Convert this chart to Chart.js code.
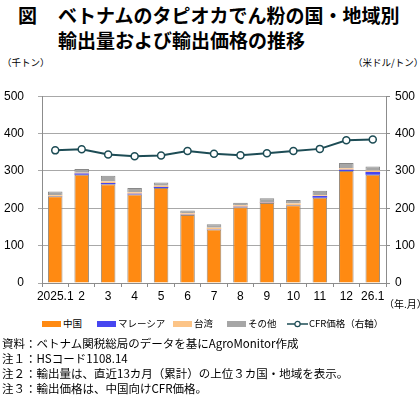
<!DOCTYPE html>
<html>
<head>
<meta charset="utf-8">
<script src="https://cdn.jsdelivr.net/npm/chart.js@4"></script>
<style>
    body { margin: 0; width: 420px; height: 396px; background: #fff; position: relative; overflow: hidden;
           font-family: "Liberation Sans", "Noto Sans CJK JP", sans-serif; color: #000; }
    .abs { position: absolute; white-space: nowrap; }
    .title { font-family: "Noto Sans CJK JP", sans-serif; font-weight: bold; font-size: 19px; line-height: 24px; }
    .unit { font-family: "Noto Sans CJK JP", sans-serif; font-size: 9.5px; }
    .note { font-family: "Noto Sans CJK JP", sans-serif; font-size: 11.5px; line-height: 15px; left: 2px; }
    #legend { top: 316px; left: 42px; font-family: "Noto Sans CJK JP", sans-serif; font-size: 9.5px; line-height: 14px; }
    #legend span.item { position: absolute; top: 0; }
    #legend i { display: inline-block; width: 19px; height: 6px; vertical-align: middle; margin-right: 2px; border: 0; }
    #chart-container { position: absolute; left: 0; top: 75px; width: 420px; height: 235px; }
</style>
</head>
<body>
<div class="abs title" style="left:18px; top:3px;">図</div>
<div class="abs title" style="left:58px; top:3px;">ベトナムのタピオカでん粉の国・地域別</div>
<div class="abs title" style="left:58px; top:28px;">輸出量および輸出価格の推移</div>
<div class="abs unit" style="left:2px; top:55px;">（千トン）</div>
<div class="abs unit" style="left:353px; top:55px;">（米ドル/トン）</div>

<div id="chart-container"><canvas id="mycanvas" width="420" height="235"></canvas></div>
<div class="abs unit" style="left:384px; top:296px; font-size:10px;">（年.月）</div>

<div id="legend" class="abs"></div>

<div class="abs note" style="top:336px;">資料：ベトナム関税総局のデータを基にAgroMonitor作成</div>
<div class="abs note" style="top:351px;">注１：HSコード1108.14</div>
<div class="abs note" style="top:366px;">注２：輸出量は、直近13カ月（累計）の上位３カ国・地域を表示。</div>
<div class="abs note" style="top:381px;">注３：輸出価格は、中国向けCFR価格。</div>

<script>
// categories
var meses = ['2025.1', '2', '3', '4', '5', '6', '7', '8', '9', '10', '11', '12', '26.1'];
// export volume (thousand tons)
var china    = [232, 290, 264, 237, 254, 182, 143, 203, 214, 208, 228, 300, 290];
var malasia  = [1, 3, 4, 2, 3, 1, 1, 1, 1, 1, 5, 3, 7];
var taiwan   = [2, 2, 4, 4, 3, 4, 4, 4, 2, 4, 2, 4, 4];
var otros    = [10, 10, 15, 11, 9, 7, 9, 7, 10, 9, 12, 14, 11];
// CFR price (USD/ton, right axis)
var cfr      = [355, 358, 344, 339, 341, 353, 346, 342, 347, 353, 359, 382, 384];
var yTicks   = [0, 100, 200, 300, 400, 500];

var gris = '#8c8c8c';
var lineColor = '#1d4c55';

var chartdata = {
    labels: meses,
    datasets: [{
        type: 'line',
        label: 'CFR価格（右軸）',
        data: cfr,
        yAxisID: 'y1',
        borderColor: lineColor,
        borderWidth: 2,
        pointRadius: 3.5,
        pointBackgroundColor: '#ffffff',
        pointBorderColor: lineColor,
        pointBorderWidth: 1.5,
        order: 0
    }, {
        label: '中国',
        data: china,
        backgroundColor: '#ff8a12',
        borderColor: '#9a8a7a',
        borderWidth: 1,
        order: 1
    }, {
        label: 'マレーシア',
        data: malasia,
        backgroundColor: '#4646f0',
        borderColor: gris,
        borderWidth: 0,
        order: 1
    }, {
        label: '台湾',
        data: taiwan,
        backgroundColor: '#fcc487',
        borderColor: gris,
        borderWidth: 0,
        order: 1
    }, {
        label: 'その他',
        data: otros,
        backgroundColor: '#a6a6a6',
        borderColor: '#888888',
        borderWidth: 1,
        order: 1
    }]
};

var ctx = document.getElementById('mycanvas');
var tickFont = { family: 'Liberation Sans', size: 12 };

var barGraph = new Chart(ctx, {
    type: 'bar',
    data: chartdata,
    options: {
        responsive: false,
        animation: false,
        layout: { padding: { top: 10, left: 0, right: 0, bottom: 0 } },
        datasets: { bar: { barPercentage: 0.55, categoryPercentage: 1 } },
        plugins: { legend: { display: false }, tooltip: { enabled: false } },
        scales: {
            x: {
                stacked: true,
                grid: { display: true, drawOnChartArea: false, offset: true, tickLength: 4, color: gris },
                border: { color: gris },
                ticks: { color: '#000', font: tickFont, padding: 2, maxRotation: 0, autoSkip: false },
                afterFit: function (axis) { axis.height = 27; }
            },
            y: {
                stacked: true,
                position: 'left',
                min: 0,
                max: 500,
                afterBuildTicks: function (axis) { axis.ticks = yTicks.map(function (v) { return { value: v }; }); },
                grid: { color: '#a8a8a8', tickLength: 4 },
                border: { color: gris },
                ticks: { color: '#000', font: tickFont, padding: 14 },
                afterFit: function (axis) { axis.width = 42; }
            },
            y1: {
                position: 'right',
                min: 0,
                max: 500,
                afterBuildTicks: function (axis) { axis.ticks = yTicks.map(function (v) { return { value: v }; }); },
                grid: { drawOnChartArea: false, color: gris, tickLength: 4 },
                border: { color: gris },
                ticks: { color: '#000', font: tickFont, padding: 5 },
                afterFit: function (axis) { axis.width = 34; }
            }
        }
    }
});

// legend
var leg = document.getElementById('legend');
var items = [
    { x: 0, html: '<i style="background:#ff8a12"></i>中国' },
    { x: 55, html: '<i style="background:#4646f0"></i>マレーシア' },
    { x: 131, html: '<i style="background:#fcc487"></i>台湾' },
    { x: 185, html: '<i style="background:#a6a6a6"></i>その他' },
    { x: 245, html: '<svg width="21" height="8" style="vertical-align:middle;margin-right:1px"><line x1="0" y1="4" x2="21" y2="4" stroke="' + lineColor + '" stroke-width="1.5"/><circle cx="10.5" cy="4" r="2.6" fill="#fff" stroke="' + lineColor + '" stroke-width="1.2"/></svg>CFR価格（右軸）' }
];
items.forEach(function (it) {
    var s = document.createElement('span');
    s.className = 'item';
    s.style.left = it.x + 'px';
    s.innerHTML = it.html;
    leg.appendChild(s);
});
</script>
</body>
</html>
